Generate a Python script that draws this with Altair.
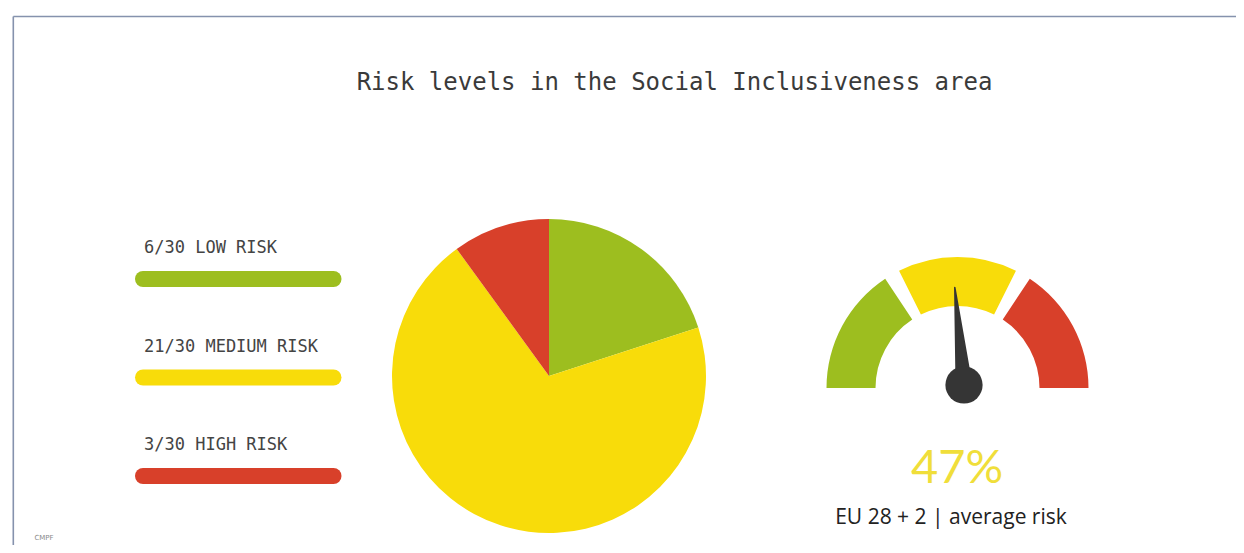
import math
import altair as alt
import pandas as pd

# ---- data ----
risk_names = ["LOW RISK", "MEDIUM RISK", "HIGH RISK"]
risk_counts = [6, 21, 3]
risk_total = 30
risk_colors = ["#9dbe1f", "#f8dc0a", "#d8402a"]
gauge_edges = [0.0, 1 / 3, 2 / 3, 1.0]
average_risk = 47
title_text = "Risk levels in the Social Inclusiveness area"
subtitle_text = "EU 28 + 2 | average risk"
logo_text = "CMPF"

OFF = 8  # page margin
W, H = 1228, 537

labels = [f"{c}/{risk_total} {n}" for c, n in zip(risk_counts, risk_names)]
df_risk = pd.DataFrame({"risk": risk_names, "count": risk_counts, "label": labels,
                        "order": list(range(len(risk_names)))})

color_scale = alt.Scale(domain=risk_names, range=risk_colors)

# ---- frame lines ----
frame_left = alt.Chart(pd.DataFrame({"a": [0]})).mark_rule(color="#8592ad", strokeWidth=1.6).encode(
    x=alt.value(13.3 - OFF), y=alt.value(16.5 - OFF), y2=alt.value(H))
frame_top = alt.Chart(pd.DataFrame({"a": [0]})).mark_rule(color="#8592ad", strokeWidth=1.6).encode(
    x=alt.value(13.3 - OFF), x2=alt.value(W), y=alt.value(16.5 - OFF))

# ---- title ----
title = alt.Chart(pd.DataFrame({"t": [title_text]})).mark_text(
    font="DejaVu Sans Mono", fontSize=24, color="#3a3a3a", align="center", baseline="alphabetic"
).encode(x=alt.value(674.5 - OFF), y=alt.value(90 - OFF), text="t:N")

# ---- legend ----
ypos = alt.Y("label:N", scale=alt.Scale(type="point", domain=labels, range=[279 - OFF, 476 - OFF], padding=0),
             axis=None)
legend_bars = alt.Chart(df_risk).mark_rule(strokeWidth=16, strokeCap="round").encode(
    x=alt.value(143 - OFF), x2=alt.value(333.5 - OFF), y=ypos,
    color=alt.Color("risk:N", scale=color_scale, legend=None))
legend_text = alt.Chart(df_risk).mark_text(
    font="DejaVu Sans Mono", fontSize=17, color="#444444", align="left", baseline="alphabetic", dy=-26
).encode(x=alt.value(144 - OFF), y=ypos, text="label:N")

# ---- pie ----
pie = alt.Chart(df_risk).mark_arc(radius=157).encode(
    theta=alt.Theta("count:Q", stack=True),
    order=alt.Order("order:Q"),
    color=alt.Color("risk:N", scale=color_scale, legend=None),
    x=alt.value(549 - OFF), y=alt.value(376 - OFF))

# ---- gauge ----
gap = math.radians(7)
g0, g1 = [], []
for lo, hi in zip(gauge_edges[:-1], gauge_edges[1:]):
    a0 = -math.pi / 2 + math.pi * lo + (gap / 2 if lo > 0 else 0)
    a1 = -math.pi / 2 + math.pi * hi - (gap / 2 if hi < 1 else 0)
    g0.append(a0)
    g1.append(a1)
df_gauge = pd.DataFrame({"risk": risk_names, "t0": g0, "t1": g1})
gauge = alt.Chart(df_gauge).mark_arc(radius=131, radius2=82).encode(
    theta=alt.Theta("t0:Q", scale=None, stack=None), theta2="t1:Q",
    color=alt.Color("risk:N", scale=color_scale, legend=None),
    x=alt.value(957.5 - OFF), y=alt.value(388 - OFF))

# needle
pvx, pvy = 964 - OFF, 385 - OFF
ang = (average_risk / 100 - 0.5) * math.pi
L = 98
df_needle = pd.DataFrame({"x": [pvx, pvx + L * math.sin(ang)],
                          "y": [pvy, pvy - L * math.cos(ang)],
                          "w": [17, 1.5]})
needle = alt.Chart(df_needle).mark_trail(color="#353535").encode(
    x=alt.X("x:Q", scale=None, axis=None), y=alt.Y("y:Q", scale=None, axis=None),
    size=alt.Size("w:Q", scale=None, legend=None))
pivot = alt.Chart(pd.DataFrame({"a": [0]})).mark_circle(size=math.pi * 21 ** 2, color="#353535", opacity=1).encode(
    x=alt.value(pvx), y=alt.value(pvy))

pct = alt.Chart(pd.DataFrame({"t": [f"{average_risk}%"]})).mark_text(
    font="Lato", fontWeight=400, fontSize=47, color="#f0de3a", align="center", baseline="alphabetic"
).encode(x=alt.value(957 - OFF), y=alt.value(483 - OFF), text="t:N")
sub = alt.Chart(pd.DataFrame({"t": [subtitle_text]})).mark_text(
    font="Open Sans", fontSize=21, color="#222222", align="center", baseline="alphabetic"
).encode(x=alt.value(951 - OFF), y=alt.value(524 - OFF), text="t:N")

logo = alt.Chart(pd.DataFrame({"t": [logo_text]})).mark_text(
    font="DejaVu Sans", fontSize=7, color="#8a8a8a", align="center", baseline="alphabetic"
).encode(x=alt.value(44 - OFF), y=alt.value(540 - OFF), text="t:N")

chart = alt.layer(
    frame_left, frame_top, title, legend_bars, legend_text, pie, gauge, needle, pivot, pct, sub, logo
).resolve_scale(
    x="independent", y="independent", theta="independent", color="independent", size="independent"
).properties(
    width=W, height=H, padding=0, autosize=alt.AutoSizeParams(type="none"), background="white"
).configure_view(stroke=None)

chart.save("out.html", embed_options={"renderer": "svg", "actions": False})
